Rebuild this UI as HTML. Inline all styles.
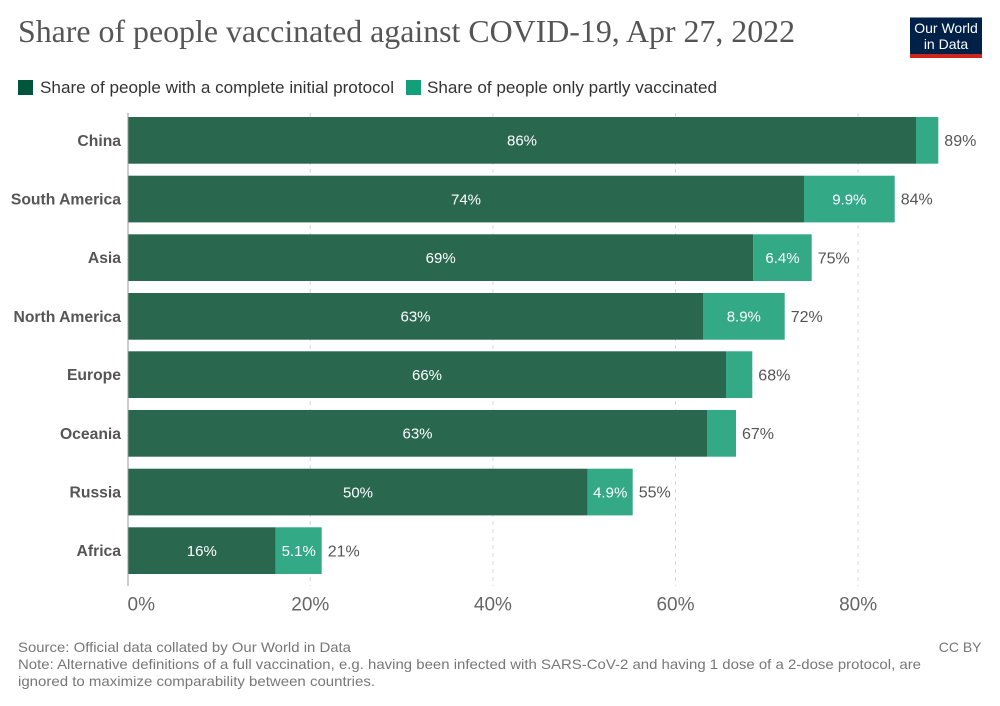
<!DOCTYPE html>
<html>
<head>
<meta charset="utf-8">
<style>
  html, body { margin: 0; padding: 0; background: #fff; }
  svg { display: block; }
  .cat { font-family: "Liberation Sans", Arial, sans-serif; font-weight: bold; font-size: 15.7px; fill: #555; }
  .in { font-family: "Liberation Sans", Arial, sans-serif; font-size: 15px; fill: #fff; }
  .out { font-family: "Liberation Sans", Arial, sans-serif; font-size: 16px; fill: #555; }
  .tick { font-family: "Liberation Sans", Arial, sans-serif; font-size: 19px; fill: #666; }
  .leg { font-family: "Liberation Sans", Arial, sans-serif; font-size: 17px; fill: #333; }
  .foot { font-family: "Liberation Sans", Arial, sans-serif; font-size: 14px; fill: #777; }
</style>
</head>
<body>
<svg width="1000" height="706" viewBox="0 0 1000 706" xmlns="http://www.w3.org/2000/svg">
  <rect width="1000" height="706" fill="#fff"/>

  <!-- Title -->
  <text x="18" y="42" font-family="'Liberation Serif', serif" font-size="32" fill="#555" textLength="777" lengthAdjust="spacingAndGlyphs">Share of people vaccinated against COVID-19, Apr 27, 2022</text>

  <!-- Logo -->
  <rect x="910" y="17.5" width="72" height="40.5" fill="#002147"/>
  <rect x="910" y="54" width="72" height="4" fill="#ce261e"/>
  <text x="946" y="33" text-anchor="middle" font-family="'Liberation Sans', sans-serif" font-size="14" fill="#fff">Our World</text>
  <text x="946" y="49" text-anchor="middle" font-family="'Liberation Sans', sans-serif" font-size="14" fill="#fff">in Data</text>

  <!-- Legend -->
  <rect x="18" y="80" width="15" height="15" fill="#00553a"/>
  <text x="40" y="93" class="leg" textLength="354" lengthAdjust="spacingAndGlyphs">Share of people with a complete initial protocol</text>
  <rect x="406" y="80" width="15" height="15" fill="#12a07a"/>
  <text x="427" y="93" class="leg" textLength="290" lengthAdjust="spacingAndGlyphs">Share of people only partly vaccinated</text>

  <!-- Grid lines -->
  <g stroke="#d8d8d8" stroke-width="1" stroke-dasharray="4,4">
    <line x1="310.3" y1="113" x2="310.3" y2="586"/>
    <line x1="492.9" y1="113" x2="492.9" y2="586"/>
    <line x1="675.5" y1="113" x2="675.5" y2="586"/>
    <line x1="858.1" y1="113" x2="858.1" y2="586"/>
  </g>

  <!-- Bars -->
  <g>
    <!-- China -->
    <rect x="128" y="117" width="788" height="46.7" fill="#29684f"/>
    <rect x="916" y="117" width="22.3" height="46.7" fill="#33a985"/>
    <!-- South America -->
    <rect x="128" y="175.7" width="676" height="46.7" fill="#29684f"/>
    <rect x="804" y="175.7" width="90.7" height="46.7" fill="#33a985"/>
    <!-- Asia -->
    <rect x="128" y="234.3" width="625.3" height="46.7" fill="#29684f"/>
    <rect x="753.3" y="234.3" width="58.4" height="46.7" fill="#33a985"/>
    <!-- North America -->
    <rect x="128" y="293" width="575" height="46.7" fill="#29684f"/>
    <rect x="703" y="293" width="81.7" height="46.7" fill="#33a985"/>
    <!-- Europe -->
    <rect x="128" y="351.3" width="598" height="46.7" fill="#29684f"/>
    <rect x="726" y="351.3" width="26.3" height="46.7" fill="#33a985"/>
    <!-- Oceania -->
    <rect x="128" y="410" width="579" height="46.7" fill="#29684f"/>
    <rect x="707" y="410" width="29" height="46.7" fill="#33a985"/>
    <!-- Russia -->
    <rect x="128" y="468.7" width="459.7" height="46.7" fill="#29684f"/>
    <rect x="587.7" y="468.7" width="45" height="46.7" fill="#33a985"/>
    <!-- Africa -->
    <rect x="128" y="527.3" width="147.7" height="46.7" fill="#29684f"/>
    <rect x="275.7" y="527.3" width="46" height="46.7" fill="#33a985"/>
  </g>

  <!-- Axis line -->
  <line x1="128" y1="113" x2="128" y2="586" stroke="#999" stroke-width="1"/>

  <!-- Category labels -->
  <g text-anchor="end">
    <text x="121" y="145.9" class="cat">China</text>
    <text x="121" y="204.6" class="cat">South America</text>
    <text x="121" y="263.2" class="cat">Asia</text>
    <text x="121" y="321.9" class="cat">North America</text>
    <text x="121" y="380.2" class="cat">Europe</text>
    <text x="121" y="438.9" class="cat">Oceania</text>
    <text x="121" y="497.6" class="cat">Russia</text>
    <text x="121" y="556.2" class="cat">Africa</text>
  </g>

  <!-- Inside labels -->
  <g text-anchor="middle">
    <text x="522" y="145.6" class="in">86%</text>
    <text x="466" y="204.3" class="in">74%</text>
    <text x="849.3" y="204.3" class="in">9.9%</text>
    <text x="440.7" y="262.9" class="in">69%</text>
    <text x="782.5" y="262.9" class="in">6.4%</text>
    <text x="415.5" y="321.6" class="in">63%</text>
    <text x="743.8" y="321.6" class="in">8.9%</text>
    <text x="427" y="379.9" class="in">66%</text>
    <text x="417.5" y="438.6" class="in">63%</text>
    <text x="358" y="497.3" class="in">50%</text>
    <text x="610.2" y="497.3" class="in">4.9%</text>
    <text x="201.8" y="555.9" class="in">16%</text>
    <text x="298.7" y="555.9" class="in">5.1%</text>
  </g>

  <!-- Outside totals -->
  <g>
    <text x="944.3" y="146" class="out">89%</text>
    <text x="900.7" y="204.7" class="out">84%</text>
    <text x="817.7" y="263.3" class="out">75%</text>
    <text x="790.7" y="322" class="out">72%</text>
    <text x="758.3" y="380.3" class="out">68%</text>
    <text x="742" y="439" class="out">67%</text>
    <text x="638.7" y="497.7" class="out">55%</text>
    <text x="327.7" y="556.3" class="out">21%</text>
  </g>

  <!-- Tick labels -->
  <text x="127.5" y="610.5" class="tick">0%</text>
  <text x="310.3" y="610.5" class="tick" text-anchor="middle">20%</text>
  <text x="492.9" y="610.5" class="tick" text-anchor="middle">40%</text>
  <text x="675.5" y="610.5" class="tick" text-anchor="middle">60%</text>
  <text x="858.1" y="610.5" class="tick" text-anchor="middle">80%</text>

  <!-- Footer -->
  <text x="18" y="652" class="foot" textLength="333" lengthAdjust="spacingAndGlyphs">Source: Official data collated by Our World in Data</text>
  <text x="981.5" y="652" class="foot" text-anchor="end">CC BY</text>
  <text x="18" y="669" class="foot" textLength="903" lengthAdjust="spacingAndGlyphs">Note: Alternative definitions of a full vaccination, e.g. having been infected with SARS-CoV-2 and having 1 dose of a 2-dose protocol, are</text>
  <text x="18" y="686" class="foot" textLength="357" lengthAdjust="spacingAndGlyphs">ignored to maximize comparability between countries.</text>
</svg>
</body>
</html>
